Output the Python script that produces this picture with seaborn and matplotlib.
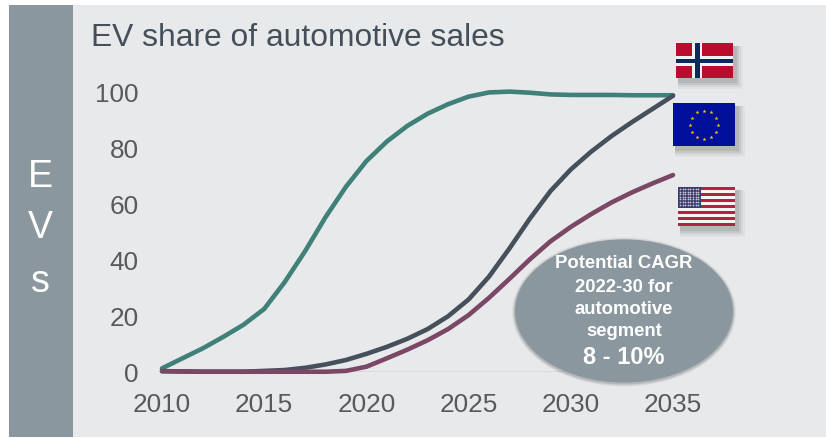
import matplotlib
matplotlib.use("Agg")
import matplotlib.pyplot as plt
from matplotlib.patches import Rectangle, Ellipse
import numpy as np
import pandas as pd
import seaborn as sns

# values
years = list(range(2010, 2036))
norway = [1.3, 4.9, 8.5, 12.6, 17, 22.6, 32.2, 43.3, 55.5, 66.4, 75.6, 82.6, 88.2,
          92.6, 96, 98.7, 100.2, 100.5, 100.1, 99.5, 99.3, 99.3, 99.3, 99.2, 99.2, 99.2]
europe = [0.3, 0.2, 0.1, 0.1, 0.1, 0.4, 0.7, 1.5, 2.7, 4.3, 6.5, 9, 11.9,
          15.4, 20, 26, 34.2, 44.3, 55, 64.8, 72.6, 79, 84.6, 89.6, 94.3, 99]
usa = [0.3, 0.2, 0.1, 0.1, 0.1, 0.1, 0.1, 0.1, 0.1, 0.4, 1.9, 4.9, 8,
       11.4, 15.4, 20.4, 26.6, 33.4, 40.4, 46.8, 52, 56.6, 60.8, 64.4, 67.6, 70.6]
x_ticks = [2010, 2015, 2020, 2025, 2030, 2035]
y_ticks = [0, 20, 40, 60, 80, 100]
bubble_lines = ["Potential CAGR", "2022-30 for", "automotive", "segment"]
bubble_value = "8 - 10%"

W, H = 826, 438
BG = "#e8e9eb"
SIDE = "#8a979f"
DARK = "#444f5a"
TICK = "#595959"

sns.set_theme(style="white")
plt.rcParams["font.family"] = ["Liberation Sans", "DejaVu Sans"]

fig = plt.figure(figsize=(W / 100, H / 100), dpi=100, facecolor="white")

# pixel-space layer for the panel, flags and bubble
bg = fig.add_axes([0, 0, 1, 1])
bg.set_xlim(0, W)
bg.set_ylim(H, 0)
bg.axis("off")
bg.add_patch(Rectangle((9, 5), W - 9, H - 6, color=BG, lw=0))
bg.add_patch(Rectangle((9, 5), 64, H - 6, color=SIDE, lw=0))
for letter, y in zip("EVs", [177, 228, 282]):
    bg.text(40, y, letter, color="white", fontsize=27, ha="center", va="center")
bg.text(91, 46, "EV share of automotive sales", color=DARK, fontsize=22.85,
        ha="left", va="baseline")

# chart axes, 2010 at px 162, 2035 at px 673, 0 at px 372, 100 at px 93
x0, x1, y0, y1 = 162, 673, 372, 93
ax = fig.add_axes([x0 / W, 1 - y0 / H, (x1 - x0) / W, (y0 - y1) / H])
ax.patch.set_alpha(0)

df = pd.DataFrame({"year": years, "Norway": norway, "Europe": europe, "USA": usa})
long_df = df.melt("year", var_name="region", value_name="share")
ax.axhline(0, color="#d9d9d9", lw=1.3, zorder=0)
sns.lineplot(data=long_df, x="year", y="share", hue="region", ax=ax, legend=False,
             hue_order=["Norway", "Europe", "USA"],
             palette=["#3f8078", "#46505c", "#7a4765"], linewidth=3.3,
             solid_capstyle="round", solid_joinstyle="round", clip_on=False)
ax.set_xlim(2010, 2035)
ax.set_ylim(0, 100)
ax.set_xticks(x_ticks)
ax.set_yticks(y_ticks)
ax.set_xlabel("")
ax.set_ylabel("")
ax.tick_params(axis="both", length=0, labelsize=18.8, labelcolor=TICK)
ax.tick_params(axis="x", pad=15)
ax.tick_params(axis="y", pad=17)
sns.despine(ax=ax, left=True, bottom=True, right=True, top=True)

# top layer
top = fig.add_axes([0, 0, 1, 1])
top.set_xlim(0, W)
top.set_ylim(H, 0)
top.axis("off")
top.patch.set_alpha(0)


def shadow_rect(x, y, w, h):
    for d, a in [(8, 0.05), (6, 0.08), (4, 0.12), (2, 0.14)]:
        top.add_patch(Rectangle((x + 2, y + 3), w + d, h + d, color="#555555", alpha=a, lw=0))


# bubble
for d, a in [(6, 0.08), (4, 0.12), (2, 0.18)]:
    top.add_patch(Ellipse((624, 312), 218 + d, 143 + d, color="#555555", alpha=a, lw=0))
top.add_patch(Ellipse((624, 311), 218, 143, color=SIDE, lw=0))
for line, y in zip(bubble_lines, [264, 287, 309, 331]):
    top.text(624, y, line, color="white", fontsize=13.3, fontweight="bold",
             ha="center", va="center")
top.text(624, 357, bubble_value, color="white", fontsize=17, fontweight="bold",
         ha="center", va="center")

# Norway flag
shadow_rect(676, 43, 57, 35)
top.add_patch(Rectangle((676, 43), 57, 35, color="#ba0c2f", lw=0))
top.add_patch(Rectangle((692, 43), 10, 35, color="#f2f2f2", lw=0))
top.add_patch(Rectangle((676, 56), 57, 10, color="#f2f2f2", lw=0))
top.add_patch(Rectangle((695, 43), 4.5, 35, color="#0b2a5c", lw=0))
top.add_patch(Rectangle((676, 58.5), 57, 4.5, color="#0b2a5c", lw=0))

# EU flag
shadow_rect(673, 103, 62, 43)
top.add_patch(Rectangle((673, 103), 62, 43, color="#00109a", lw=0))
angles = np.deg2rad(np.arange(0, 360, 30))
top.scatter(704 + 14 * np.cos(angles), 124.5 + 14 * np.sin(angles), s=9, marker="*",
            color="#ffcc00", linewidths=0, zorder=5)

# US flag
shadow_rect(678, 187, 57, 39)
top.add_patch(Rectangle((678, 187), 57, 39, color="#f4f4f4", lw=0))
for i in range(0, 13, 2):
    top.add_patch(Rectangle((678, 187 + i * 3), 57, 3, color="#b3233f", lw=0))
top.add_patch(Rectangle((678, 187), 23, 21, color="#3c3b6e", lw=0))
sx, sy = np.meshgrid(np.arange(680, 700, 2.6), np.arange(189, 207, 2.6))
top.scatter(sx.ravel(), sy.ravel(), s=1.6, color="#c8c8d8", linewidths=0, zorder=5)

fig.savefig("out.png", dpi=100)
